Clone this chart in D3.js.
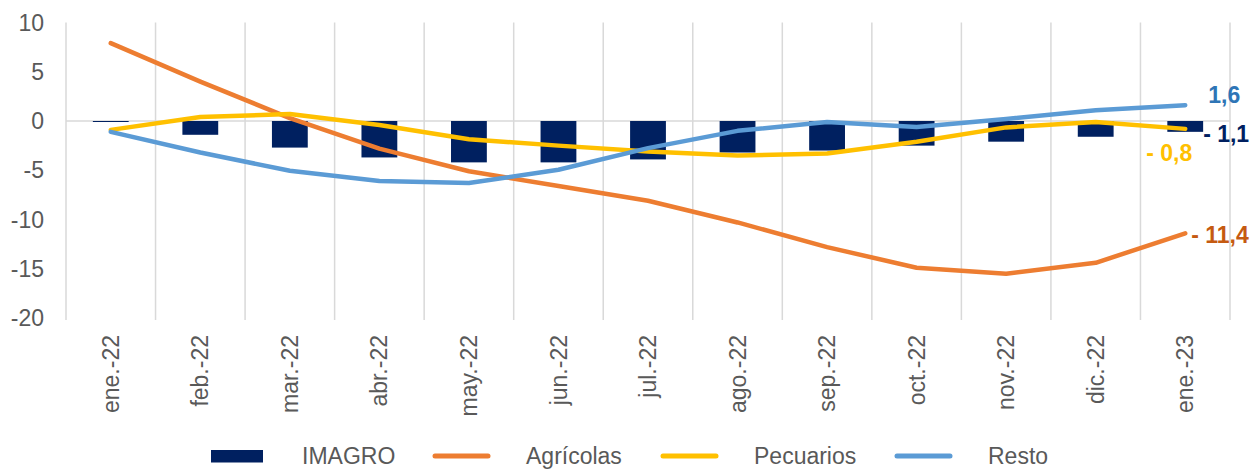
<!DOCTYPE html>
<html>
<head>
<meta charset="utf-8">
<script src="https://cdn.jsdelivr.net/npm/d3@7"></script>
<style>
  body { margin: 0; background: #fff; }
  text { font-family: "Liberation Sans", Arial, sans-serif; }
</style>
</head>
<body>
<div id="chart"></div>
<script>
let months = ["ene.-22", "feb.-22", "mar.-22", "abr.-22", "may.-22", "jun.-22", "jul.-22",
    "ago.-22", "sep.-22", "oct.-22", "nov.-22", "dic.-22", "ene.-23"];
let imagro = [-0.1, -1.4, -2.7, -3.7, -4.2, -4.2, -3.9, -3.2, -3.0, -2.5, -2.1, -1.6, -1.1];
let agricolas = [7.9, 4.0, 0.3, -2.8, -5.1, -6.6, -8.1, -10.3, -12.8, -14.9, -15.5, -14.4, -11.4];
let pecuarios = [-0.9, 0.4, 0.7, -0.4, -1.85, -2.5, -3.1, -3.5, -3.3, -2.1, -0.65, -0.1, -0.8];
let resto = [-1.1, -3.2, -5.05, -6.1, -6.3, -4.95, -2.75, -1.0, -0.1, -0.6, 0.2, 1.1, 1.6];
let yTicks = [10, 5, 0, -5, -10, -15, -20];
let seriesNames = ["IMAGRO", "Agrícolas", "Pecuarios", "Resto"];

let width = 1253;
let height = 470;
let grey = "#595959";

let lines = [
    {name: "Agrícolas", values: agricolas, color: "#ED7D31", label: "#C55A11", dx: 6, dy: 2, anchor: "start"},
    {name: "Pecuarios", values: pecuarios, color: "#FFC000", label: "#FFC000", dx: 7, dy: 24, anchor: "end"},
    {name: "Resto", values: resto, color: "#5B9BD5", label: "#2E75B6", dx: 23, dy: -10, anchor: "start"}
];

let svg = d3.select("#chart")
    .append("svg")
    .attr("width", width)
    .attr("height", height);

let x = d3.scaleBand()
    .domain(months)
    .range([66, 1230])
    .padding(0);

let y = d3.scaleLinear()
    .domain([-20, 10])
    .range([318, 22.5]);

// vertical gridlines on category boundaries
let bounds = months.map(m => x(m)).concat([x.range()[1]]);
svg.selectAll(".vgrid")
    .data(bounds)
    .enter().append("line")
    .attr("x1", d => d).attr("x2", d => d)
    .attr("y1", y(10)).attr("y2", y(-20) + 2)
    .attr("stroke", "#D9D9D9")
    .attr("stroke-width", 1.5);

// zero line
svg.append("line")
    .attr("x1", x.range()[0]).attr("x2", x.range()[1])
    .attr("y1", y(0)).attr("y2", y(0))
    .attr("stroke", "#D9D9D9")
    .attr("stroke-width", 1.5);

// y tick labels
svg.selectAll(".ylab")
    .data(yTicks)
    .enter().append("text")
    .attr("x", 44)
    .attr("y", d => y(d))
    .attr("dy", "0.35em")
    .attr("text-anchor", "end")
    .attr("fill", grey)
    .style("font-size", "23px")
    .text(d => d);

// x labels
svg.selectAll(".xlab")
    .data(months)
    .enter().append("text")
    .attr("transform", d => "translate(" + (x(d) + x.bandwidth() / 2) + ",335) rotate(-90)")
    .attr("dy", "0.35em")
    .attr("text-anchor", "end")
    .attr("fill", grey)
    .style("font-size", "23px")
    .text(d => d);

// bars
let barW = x.bandwidth() * 0.4;
svg.selectAll(".bar")
    .data(imagro)
    .enter().append("rect")
    .attr("x", (d, i) => x(months[i]) + (x.bandwidth() - barW) / 2)
    .attr("y", d => y(Math.max(0, d)))
    .attr("width", barW)
    .attr("height", d => Math.max(1, Math.abs(y(d) - y(0))))
    .attr("fill", "#002060");

// lines
let line = d3.line()
    .x((d, i) => x(months[i]) + x.bandwidth() / 2)
    .y(d => y(d));

lines.forEach(function(s) {
    svg.append("path")
        .attr("d", line(s.values))
        .attr("fill", "none")
        .attr("stroke", s.color)
        .attr("stroke-width", 4.5)
        .attr("stroke-linecap", "round")
        .attr("stroke-linejoin", "round");
});

// end labels
let last = months.length - 1;
let cx = x(months[last]) + x.bandwidth() / 2;
let fmt = v => (v < 0 ? "- " : "") + Math.abs(v).toFixed(1).replace(".", ",");

lines.forEach(function(s) {
    let v = s.values[last];
    svg.append("text")
        .attr("x", cx + s.dx)
        .attr("y", y(v) + s.dy)
        .attr("dy", "0.35em")
        .attr("text-anchor", s.anchor)
        .attr("fill", s.label)
        .style("font-size", "23px")
        .style("font-weight", "bold")
        .text(fmt(v));
});

svg.append("text")
    .attr("x", cx + barW / 2)
    .attr("y", y(imagro[last]) + 2)
    .attr("dy", "0.35em")
    .attr("fill", "#002060")
    .style("font-size", "23px")
    .style("font-weight", "bold")
    .text(fmt(imagro[last]));

// legend
let legendX = [211, 433, 661, 895];
let legendColors = ["#002060", "#ED7D31", "#FFC000", "#5B9BD5"];
let legendG = svg.selectAll(".legend")
    .data(seriesNames)
    .enter().append("g")
    .attr("transform", (d, i) => "translate(" + legendX[i] + ",456)");

legendG.each(function(d, i) {
    let g = d3.select(this);
    if (i === 0) {
        g.append("rect")
            .attr("x", 0).attr("y", -6)
            .attr("width", 52).attr("height", 12.5)
            .attr("fill", legendColors[i]);
    } else {
        g.append("line")
            .attr("x1", 2).attr("x2", 55)
            .attr("y1", 0).attr("y2", 0)
            .attr("stroke", legendColors[i])
            .attr("stroke-width", 5)
            .attr("stroke-linecap", "round");
    }
    g.append("text")
        .attr("x", i === 0 ? 91 : 93)
        .attr("y", 0)
        .attr("dy", "0.35em")
        .attr("fill", grey)
        .style("font-size", "23px")
        .text(d);
});
</script>
</body>
</html>
